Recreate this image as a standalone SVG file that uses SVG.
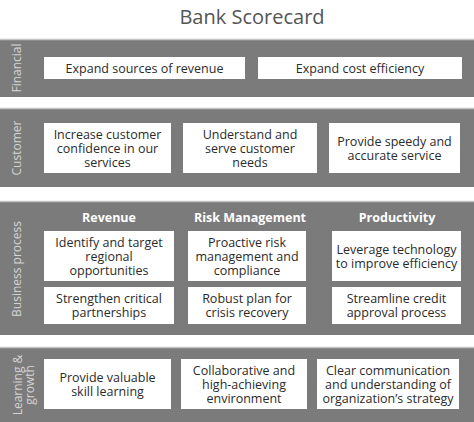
<svg xmlns="http://www.w3.org/2000/svg" width="474" height="422" viewBox="0 0 474 422">
<style>
.band{fill:#7b7b7b}
.edge{stroke:#c4c4c4;stroke-width:1.5}
.box{fill:#ffffff}
.t{font-family:"Open Sans","Liberation Sans",sans-serif;font-size:12.5px;fill:#2b2b2b;text-anchor:middle}
.h{font-family:"Open Sans","Liberation Sans",sans-serif;font-size:12.5px;font-weight:bold;fill:#ffffff;text-anchor:middle}
.lab{font-family:"Open Sans","Liberation Sans",sans-serif;font-size:12px;fill:#d4d4d4;text-anchor:middle}
.title{font-family:"Open Sans","Liberation Sans",sans-serif;font-size:20px;fill:#555555;text-anchor:middle}
</style>
<rect width="474" height="422" fill="#ffffff"/>
<text class="title" x="252" y="24">Bank Scorecard</text>

<g id="band-financial">
<rect class="band" x="0" y="39" width="474" height="58"/>
<line class="edge" x1="0" y1="39.5" x2="474" y2="39.5"/>
<text class="lab" transform="translate(21,68) rotate(-90)">Financial</text>
</g>
<g id="band-customer">
<rect class="band" x="0" y="108" width="474" height="79"/>
<line class="edge" x1="0" y1="108.5" x2="474" y2="108.5"/>
<text class="lab" transform="translate(21,148) rotate(-90)">Customer</text>
</g>
<g id="band-business">
<rect class="band" x="0" y="201" width="474" height="134"/>
<line class="edge" x1="0" y1="201.5" x2="474" y2="201.5"/>
<text class="lab" transform="translate(21,269) rotate(-90)">Business process</text>
</g>
<g id="band-learning">
<rect class="band" x="0" y="347" width="474" height="75"/>
<line class="edge" x1="0" y1="347.5" x2="474" y2="347.5"/>
<text class="lab" transform="translate(22,385) rotate(-90)">Learning &amp;</text>
<text class="lab" transform="translate(34,385) rotate(-90)">growth</text>
</g>

<g id="n-f1"><rect class="box" x="44" y="57" width="201" height="22"/><text class="t" x="144.5" y="72.5">Expand sources of revenue</text></g>
<g id="n-f2"><rect class="box" x="258" y="57" width="204" height="22"/><text class="t" x="360" y="72.5">Expand cost efficiency</text></g>

<g id="n-c1"><rect class="box" x="44" y="123" width="127" height="50"/><text class="t" x="107.5" y="138.5">Increase customer<tspan x="107.5" dy="14">confidence in our</tspan><tspan x="107.5" dy="14">services</tspan></text></g>
<g id="n-c2"><rect class="box" x="183" y="123" width="134" height="50"/><text class="t" x="250" y="138.5">Understand and<tspan x="250" dy="14">serve customer</tspan><tspan x="250" dy="14">needs</tspan></text></g>
<g id="n-c3"><rect class="box" x="329" y="123" width="131" height="50"/><text class="t" x="394.5" y="145.5">Provide speedy and<tspan x="394.5" dy="14">accurate service</tspan></text></g>

<g id="h-revenue"><text class="h" x="109" y="221.5">Revenue</text></g>
<g id="h-risk"><text class="h" x="250" y="221.5">Risk Management</text></g>
<g id="h-prod"><text class="h" x="397" y="221.5">Productivity</text></g>

<g id="n-b1"><rect class="box" x="44" y="231" width="130" height="50"/><text class="t" x="109" y="246.5">Identify and target<tspan x="109" dy="14">regional</tspan><tspan x="109" dy="14">opportunities</tspan></text></g>
<g id="n-b2"><rect class="box" x="188" y="231" width="118" height="50"/><text class="t" x="247" y="246.5">Proactive risk<tspan x="247" dy="14">management and</tspan><tspan x="247" dy="14">compliance</tspan></text></g>
<g id="n-b3"><rect class="box" x="332" y="231" width="129" height="50"/><text class="t" x="396.5" y="253.5">Leverage technology<tspan x="396.5" dy="14">to improve efficiency</tspan></text></g>
<g id="n-b4"><rect class="box" x="44" y="287" width="130" height="37"/><text class="t" x="109" y="303">Strengthen critical<tspan x="109" dy="14">partnerships</tspan></text></g>
<g id="n-b5"><rect class="box" x="188" y="287" width="118" height="37"/><text class="t" x="247" y="303">Robust plan for<tspan x="247" dy="14">crisis recovery</tspan></text></g>
<g id="n-b6"><rect class="box" x="332" y="287" width="129" height="37"/><text class="t" x="396.5" y="303">Streamline credit<tspan x="396.5" dy="14">approval process</tspan></text></g>

<g id="n-l1"><rect class="box" x="44" y="359" width="127" height="50"/><text class="t" x="107.5" y="381.5">Provide valuable<tspan x="107.5" dy="14">skill learning</tspan></text></g>
<g id="n-l2"><rect class="box" x="181" y="359" width="126" height="50"/><text class="t" x="244" y="374.5">Collaborative and<tspan x="244" dy="14">high-achieving</tspan><tspan x="244" dy="14">environment</tspan></text></g>
<g id="n-l3"><rect class="box" x="317" y="359" width="142" height="50"/><text class="t" x="388" y="374.5">Clear communication<tspan x="388" dy="14">and understanding of</tspan><tspan x="388" dy="14">organization’s strategy</tspan></text></g>

<g id="connectors"></g>
</svg>
